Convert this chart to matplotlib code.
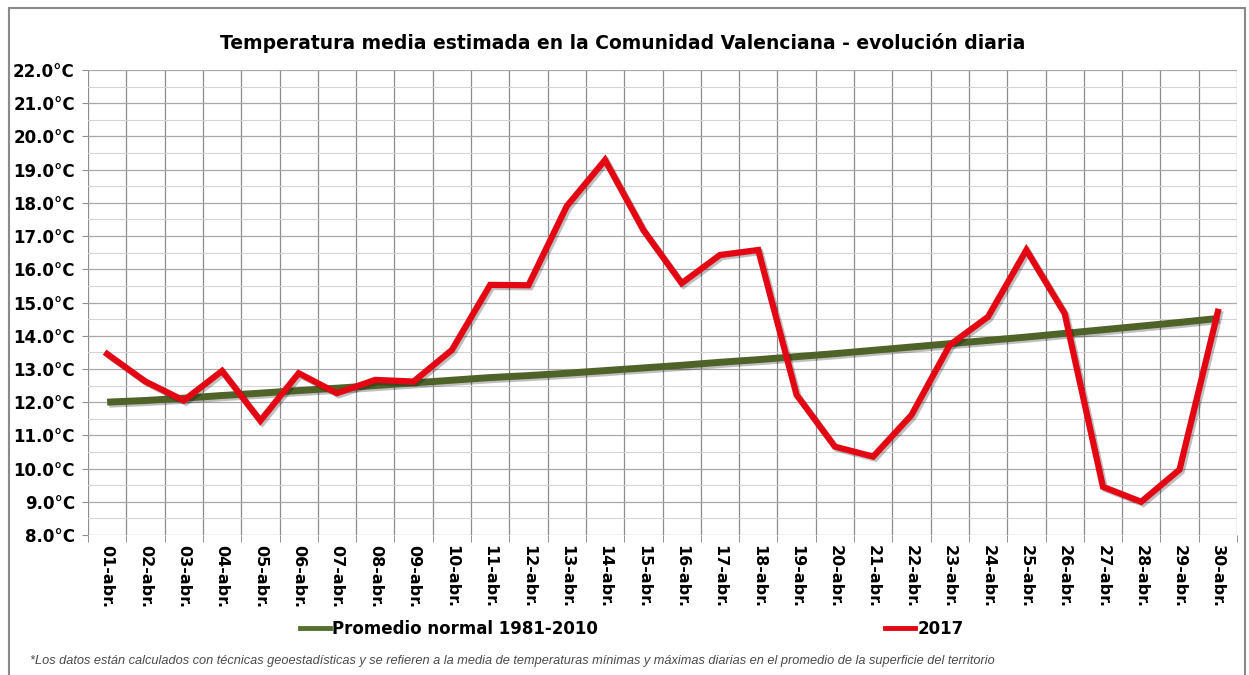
import matplotlib
matplotlib.use("Agg")
import matplotlib.pyplot as plt
import matplotlib.patheffects as pe
from matplotlib.ticker import MultipleLocator, FixedLocator
from matplotlib.patches import Rectangle
from matplotlib.lines import Line2D

# datos
dias = [f"{d:02d}-abr." for d in range(1, 31)]
t_2017 = [13.45, 12.62, 12.05, 12.94, 11.44, 12.87, 12.27, 12.67, 12.62, 13.57,
          15.53, 15.52, 17.90, 19.29, 17.18, 15.58, 16.43, 16.58, 12.22, 10.66,
          10.36, 11.61, 13.72, 14.57, 16.58, 14.67, 9.45, 9.00, 9.97, 14.72]
t_normal = [12.00, 12.05, 12.12, 12.20, 12.27, 12.35, 12.42, 12.50, 12.58, 12.66,
            12.74, 12.80, 12.87, 12.95, 13.03, 13.11, 13.20, 13.28, 13.37, 13.46,
            13.56, 13.66, 13.76, 13.86, 13.96, 14.07, 14.18, 14.29, 14.40, 14.52]

W, H = 1249, 675
fig = plt.figure(figsize=(W / 100, H / 100), dpi=100)
ax = fig.add_axes([88 / W, 1 - 535 / H, (1237 - 88) / W, (535 - 70) / H])

x = list(range(1, len(dias) + 1))

shadow = [pe.SimpleLineShadow(offset=(1.5, -1.5), alpha=0.25), pe.Normal()]
ax.plot(x, t_normal, color="#4f6228", lw=5, solid_capstyle="butt", zorder=3,
        path_effects=shadow)
ax.plot(x, t_2017, color="#e30613", lw=4.5, solid_joinstyle="miter", zorder=4,
        path_effects=shadow)

ax.set_xlim(0.5, len(dias) + 0.5)
ax.set_ylim(8, 22)

# eje y
ax.yaxis.set_minor_locator(MultipleLocator(0.5))
ax.set_yticks(list(range(8, 23)))
ax.set_yticklabels([f"{v:.1f}°C" for v in range(8, 23)], fontsize=12,
                   fontweight="bold", family="DejaVu Sans")
ax.tick_params(axis="y", which="major", length=4.5, color="#909090", pad=5)
ax.tick_params(axis="y", which="minor", length=0)

# eje x
ax.set_xticks(x)
ax.set_xticklabels(dias, rotation=-90, fontsize=11.5, fontweight="bold",
                   family="DejaVu Sans", va="top", ha="center")
ax.xaxis.set_minor_locator(FixedLocator([i + 0.5 for i in range(0, len(dias) + 1)]))
ax.tick_params(axis="x", which="major", length=0, pad=7)
ax.tick_params(axis="x", which="minor", length=5, color="#808080")

ax.grid(True, axis="y", which="major", color="#a8a8a8", lw=0.9)
ax.grid(True, axis="y", which="minor", color="#d4d4d4", lw=0.8)
ax.grid(True, axis="x", which="minor", color="#8c8c8c", lw=0.9)
ax.grid(False, axis="x", which="major")
for s in ax.spines.values():
    s.set_visible(False)
ax.set_facecolor("none")

fig.text(623 / W, 1 - 43 / H,
         "Temperatura media estimada en la Comunidad Valenciana - evolución diaria",
         ha="center", va="center", fontsize=13.5, fontweight="bold", family="DejaVu Sans")

leg_font = {"family": "DejaVu Sans", "weight": "bold", "size": 12}
h_normal = Line2D([], [], color="#55702f", lw=3.5)
h_2017 = Line2D([], [], color="#e30613", lw=3.5)
fig.legend([h_normal], ["Promedio normal 1981-2010"], loc="center left",
           bbox_to_anchor=(300 / W, 1 - 629 / H), frameon=False, prop=leg_font,
           handlelength=1.8, handletextpad=0.15, borderpad=0, borderaxespad=0)
fig.legend([h_2017], ["2017"], loc="center left",
           bbox_to_anchor=(885 / W, 1 - 629 / H), frameon=False, prop=leg_font,
           handlelength=1.8, handletextpad=0.15, borderpad=0, borderaxespad=0)

fig.text(30 / W, 1 - 661 / H,
         "*Los datos están calculados con técnicas geoestadísticas y se refieren a la media "
         "de temperaturas mínimas y máximas diarias en el promedio de la superficie del territorio",
         ha="left", va="center", fontsize=9.2, style="italic", color="#4a4a4a",
         family="Liberation Sans")

# marco exterior
fig.patches.append(Rectangle((9 / W, -0.05), (1245 - 9) / W, 1.05 - 8 / H,
                             transform=fig.transFigure, fill=False,
                             edgecolor="#8a8a8a", lw=1.5))

fig.savefig("out.png", dpi=100)
